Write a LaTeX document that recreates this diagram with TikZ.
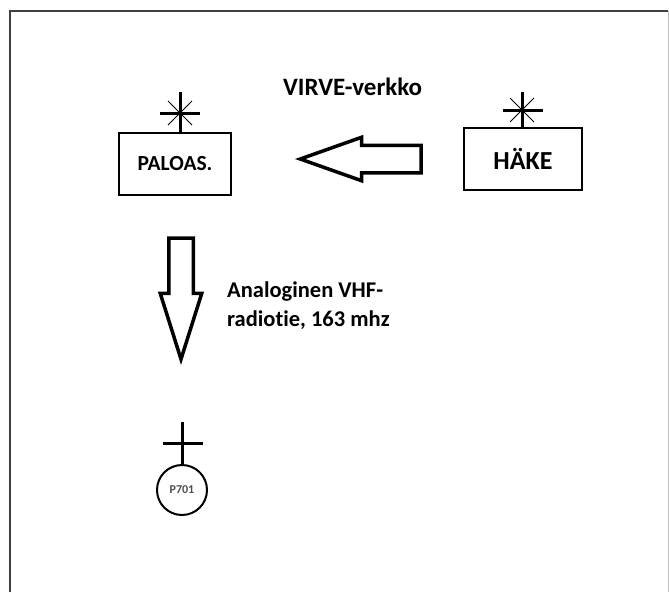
\documentclass[tikz,border=0pt]{standalone}
\usepackage{fontspec}
\setmainfont[Ligatures=NoCommon]{Carlito}
\usetikzlibrary{positioning}
\usetikzlibrary{shapes.arrows}

\begin{document}
\begin{tikzpicture}[x=1pt, y=1pt, font=\bfseries]
    % Styles:
    \tikzset{unit/.style={draw, line width=2.5pt, minimum height=62pt, inner sep=0pt}}
    \tikzset{mast/.style={line width=3pt}}
    \tikzset{spoke/.style={line width=0.9pt}}
    \tikzset{blockarrow/.style={single arrow, draw, line width=3.5pt, single arrow head indent=0pt}}

    % Frame:
    \useasboundingbox (0,0) rectangle (669,-592);
    \draw[line width=2pt, black!75] (9.5,-592) -- (9.5,-10.5) -- (668,-10.5);
    \draw[line width=0.6pt, black!25] (668,-10.5) -- (668,-592);

    % Main nodes:
    \node[unit, minimum width=112pt] (paloas) at (175,-164) {\fontsize{21.5}{25}\selectfont PALOAS.};
    \node[unit, minimum width=118pt] (haeke)  at (523,-159) {\fontsize{26}{31}\selectfont HÄKE};
    \node[draw, circle, line width=2pt, minimum size=50pt, inner sep=0pt, text=black!70] (p701) at (182,-490) {\fontsize{12}{14}\selectfont P701};

    % Block arrows:
    \node[blockarrow, inner sep=12pt, minimum height=121pt, single arrow head extend=8pt,
          single arrow tip angle=39, shape border rotate=180, anchor=tip] (virvearrow) at (295,-159) {};
    \node[blockarrow, inner sep=10.5pt, minimum height=121pt, single arrow head extend=8.5pt,
          single arrow tip angle=35, shape border rotate=270, anchor=tip] (vhfarrow) at (181,-365) {};

    % Labels:
    \node[anchor=base west, inner sep=0pt] (virve) at (283,-95) {\fontsize{25}{30}\selectfont VIRVE-verkko};
    \node[anchor=north west, align=left, inner sep=0pt, font=\bfseries\fontsize{22.5}{29}\selectfont] (vhf) at (227,-282) {Analoginen VHF-\\radiotie, 163 mhz};

    % Antennas:
    \draw[mast]  (paloas.north -| 180,0) -- (180,-92);
    \draw[mast]  (160,-113) -- (200,-113);
    \draw[spoke] (168,-101) -- (192,-125);
    \draw[spoke] (168,-125) -- (192,-101);

    \draw[mast]  (haeke.north -| 522,0) -- (522,-92);
    \draw[mast]  (503,-110) -- (543,-110);
    \draw[spoke] (510,-98) -- (534,-122);
    \draw[spoke] (510,-122) -- (534,-98);

    \draw[mast]  (p701.north) -- (182,-422);
    \draw[mast]  (163,-443) -- (203,-443);
\end{tikzpicture}
\end{document}
